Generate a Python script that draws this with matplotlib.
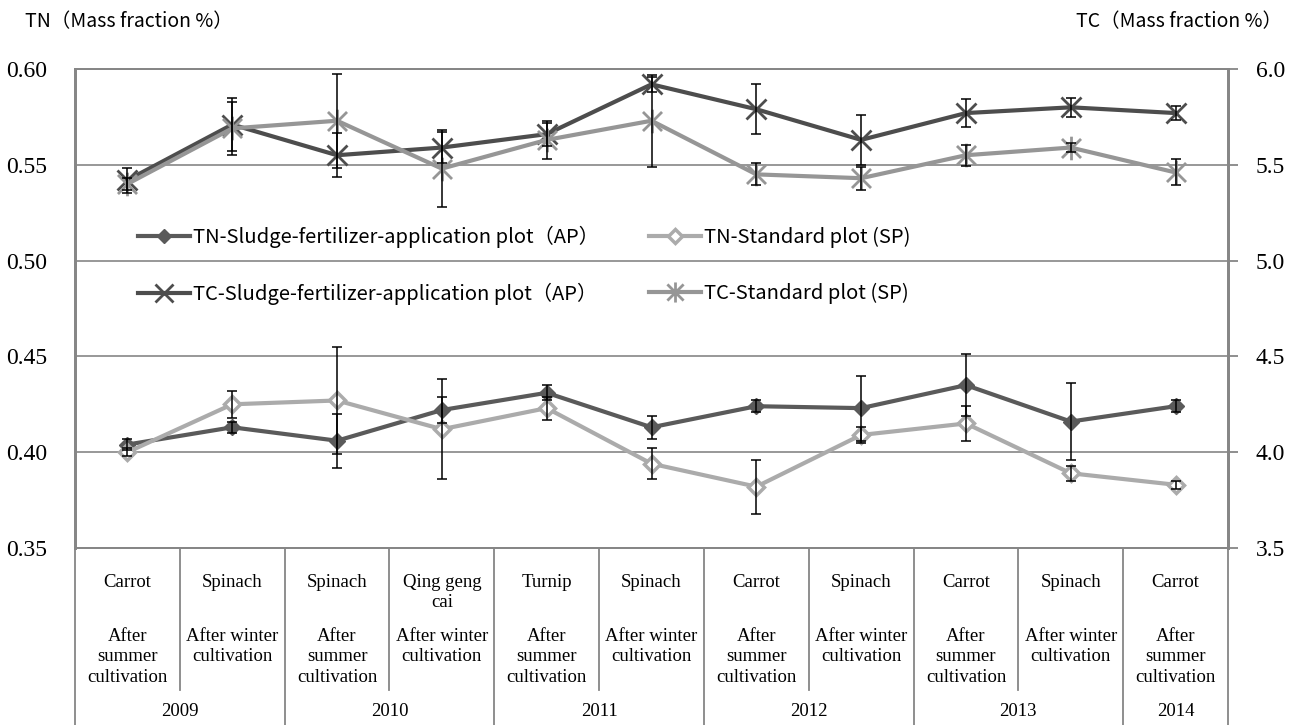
import numpy as np
import matplotlib
matplotlib.use('Agg')
import matplotlib.pyplot as plt
from matplotlib.path import Path
from matplotlib.transforms import blended_transform_factory

# ---------------- data ----------------
crops = ['Carrot', 'Spinach', 'Spinach', 'Qing geng\ncai', 'Turnip', 'Spinach',
         'Carrot', 'Spinach', 'Carrot', 'Spinach', 'Carrot']
seasons = ['After\nsummer\ncultivation', 'After winter\ncultivation',
           'After\nsummer\ncultivation', 'After winter\ncultivation',
           'After\nsummer\ncultivation', 'After winter\ncultivation',
           'After\nsummer\ncultivation', 'After winter\ncultivation',
           'After\nsummer\ncultivation', 'After winter\ncultivation',
           'After\nsummer\ncultivation']
years = ['2009', '2010', '2011', '2012', '2013', '2014']
year_spans = [2, 2, 2, 2, 2, 1]

tn_ap = [0.404, 0.413, 0.406, 0.422, 0.431, 0.413, 0.424, 0.423, 0.435, 0.416, 0.424]
tn_ap_err = [0.003, 0.003, 0.014, 0.007, 0.004, 0.006, 0.003, 0.017, 0.016, 0.020, 0.003]
tn_sp = [0.400, 0.425, 0.427, 0.412, 0.423, 0.394, 0.382, 0.409, 0.415, 0.389, 0.383]
tn_sp_err = [0.002, 0.007, 0.028, 0.026, 0.006, 0.008, 0.014, 0.004, 0.009, 0.004, 0.002]

tc_ap = [5.42, 5.71, 5.55, 5.59, 5.66, 5.92, 5.79, 5.63, 5.77, 5.80, 5.77]
tc_ap_err = [0.065, 0.14, 0.115, 0.08, 0.06, 0.04, 0.13, 0.13, 0.075, 0.05, 0.035]
tc_sp = [5.40, 5.69, 5.73, 5.48, 5.63, 5.73, 5.45, 5.43, 5.55, 5.59, 5.46]
tc_sp_err = [0.03, 0.14, 0.245, 0.20, 0.10, 0.24, 0.057, 0.06, 0.055, 0.025, 0.068]

labels = ['TN-Sludge-fertilizer-application plot（AP）', 'TN-Standard plot (SP)',
          'TC-Sludge-fertilizer-application plot（AP）', 'TC-Standard plot (SP)']

# ---------------- styling ----------------
SERIF = 'Liberation Serif'
SANS = ['Noto Sans CJK JP', 'DejaVu Sans']
GRID = '#868686'
C_TN_AP = '#5a5a5a'
C_TN_SP = '#ababab'
C_TC_AP = '#4d4d4d'
C_TC_SP = '#969696'

W, H = 1294, 725
fig = plt.figure(figsize=(W / 100, H / 100), dpi=100)
L, R, T, B = 75, 1228, 69, 548
ax = fig.add_axes([L / W, 1 - B / H, (R - L) / W, (B - T) / H])
ax2 = ax.twinx()

x = np.arange(len(crops))
ax.set_xlim(-0.5, len(crops) - 0.5)
ax.set_ylim(0.35, 0.60)
ax2.set_ylim(3.5, 6.0)

ax.set_yticks(np.arange(0.35, 0.6001, 0.05))
ax.set_yticklabels(['%.2f' % v for v in np.arange(0.35, 0.6001, 0.05)],
                   fontfamily=SERIF, fontsize=17)
ax2.set_yticks(np.arange(3.5, 6.001, 0.5))
ax2.set_yticklabels(['%.1f' % v for v in np.arange(3.5, 6.001, 0.5)],
                    fontfamily=SERIF, fontsize=17)
ax.set_xticks([])
ax.tick_params(axis='y', length=0, pad=20)
ax2.tick_params(axis='y', length=7, width=1.3, color=GRID, direction='out', pad=13)
ax.yaxis.grid(True, color=GRID, lw=1.2)
ax.set_axisbelow(True)

for a in (ax, ax2):
    for s in a.spines.values():
        s.set_color(GRID)
        s.set_linewidth(1.3)
    a.spines['left'].set_linewidth(2)
    a.spines['right'].set_linewidth(2)

# star (asterisk) marker like Excel
star = Path([(-0.5, -0.5), (0.5, 0.5), (-0.5, 0.5), (0.5, -0.5), (0, -0.62), (0, 0.62)],
            [Path.MOVETO, Path.LINETO, Path.MOVETO, Path.LINETO, Path.MOVETO, Path.LINETO])

# TN series (left axis)
l_tn_ap, = ax.plot(x, tn_ap, color=C_TN_AP, lw=3, marker='D', ms=8.5, zorder=3)
l_tn_sp, = ax.plot(x, tn_sp, color=C_TN_SP, lw=3, marker='D', ms=8.5, mfc='white',
                   mec=C_TN_SP, mew=2.5, zorder=4)
ax.errorbar(x, tn_ap, yerr=tn_ap_err, fmt='none', ecolor='black', elinewidth=1.1,
            capsize=3.5, capthick=1.1, zorder=5)
ax.errorbar(x, tn_sp, yerr=tn_sp_err, fmt='none', ecolor='black', elinewidth=1.1,
            capsize=3.5, capthick=1.1, zorder=5)

# TC series (right axis)
l_tc_ap, = ax2.plot(x, tc_ap, color=C_TC_AP, lw=3, marker='x', ms=15, mew=2, zorder=3)
l_tc_sp, = ax2.plot(x, tc_sp, color=C_TC_SP, lw=3, marker=star, ms=17, mew=2,
                    mfc='none', mec=C_TC_SP, zorder=4)
ax2.errorbar(x, tc_ap, yerr=tc_ap_err, fmt='none', ecolor='black', elinewidth=1.1,
             capsize=3.5, capthick=1.1, zorder=5)
ax2.errorbar(x, tc_sp, yerr=tc_sp_err, fmt='none', ecolor='black', elinewidth=1.1,
             capsize=3.5, capthick=1.1, zorder=5)

# legend (two rows, two columns)
leg = ax2.legend([l_tn_ap, l_tc_ap, l_tn_sp, l_tc_sp],
                 [labels[0], labels[2], labels[1], labels[3]],
                 ncol=2, loc='upper left', frameon=False,
                 bbox_to_anchor=(138 / W, 1 - 226 / H), bbox_transform=fig.transFigure,
                 borderpad=0, borderaxespad=0, handlelength=2.6, handletextpad=0.12,
                 columnspacing=2.5, labelspacing=1.7,
                 prop={'family': SANS, 'size': 14.5})
for h in leg.legend_handles:
    h.set_markersize(h.get_markersize() * 0.85)

# axis titles
fig.text(25 / W, 1 - 22 / H, 'TN（Mass fraction %）', ha='left', va='center',
         fontfamily=SANS, fontsize=14)
fig.text(1282 / W, 1 - 22 / H, 'TC（Mass fraction %）', ha='right', va='center',
         fontfamily=SANS, fontsize=14)

# category table below the axis
tr = blended_transform_factory(ax.transData, fig.transFigure)


def fy(py):
    return 1 - py / H


bounds = np.cumsum([0] + year_spans) - 0.5
for b in np.arange(-0.5, len(crops) - 0.4, 1.0):
    is_year = np.any(np.isclose(bounds, b))
    ax.plot([b, b], [fy(B), fy(H if is_year else 690)], transform=tr, color=GRID,
            lw=1.3, clip_on=False)

for i in range(len(crops)):
    ax.text(x[i], fy(574), crops[i], transform=tr, ha='center', va='top',
            fontfamily=SERIF, fontsize=13.5, linespacing=1.2)
    ax.text(x[i], fy(628), seasons[i], transform=tr, ha='center', va='top',
            fontfamily=SERIF, fontsize=13.5, linespacing=1.25)

for k, yr in enumerate(years):
    cx = (bounds[k] + bounds[k + 1]) / 2
    ax.text(cx, fy(712), yr, transform=tr, ha='center', va='center',
            fontfamily=SERIF, fontsize=13.5)

fig.savefig('out.png', dpi=100)
